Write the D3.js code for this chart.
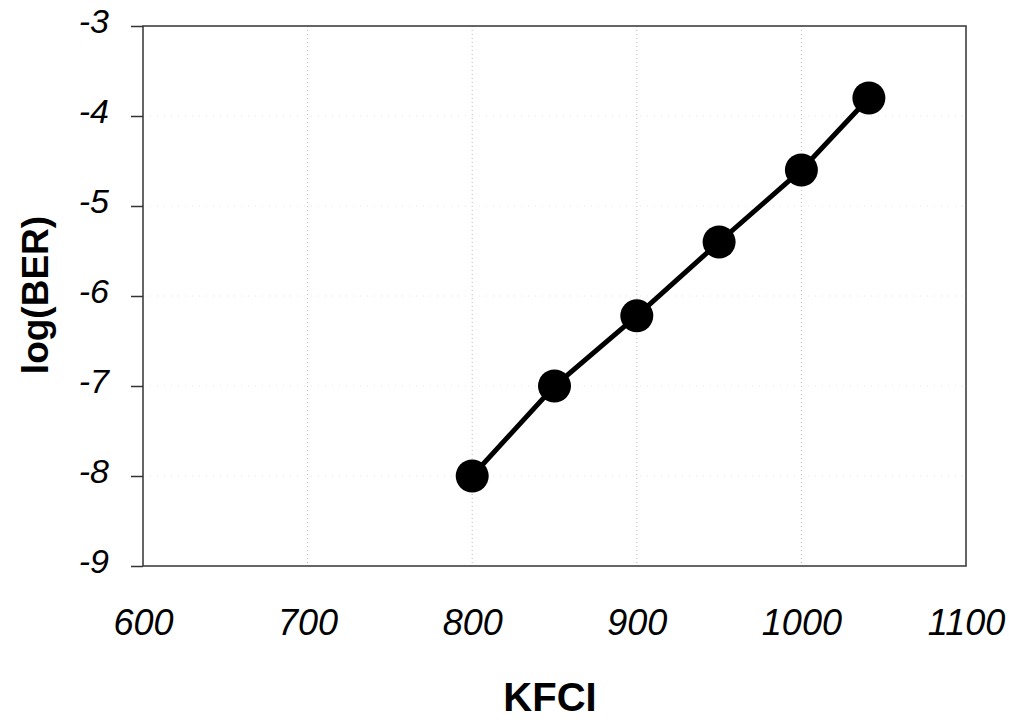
<!DOCTYPE html>
<html><head><meta charset="utf-8">
<script src="https://cdn.jsdelivr.net/npm/d3@7"></script>
<style>body{margin:0;background:#fff}svg{display:block}text{font-family:"Liberation Sans",Arial,sans-serif}</style>
</head><body>
<script>
const kfci = [800, 850, 900, 950, 1000, 1041];
const logBER = [-8.0, -7.0, -6.22, -5.4, -4.6, -3.8];
const xTicks = [600, 700, 800, 900, 1000, 1100];
const yTicks = [-9, -8, -7, -6, -5, -4, -3];

const W = 1009, H = 722;
const m = {l: 143, r: 1009 - 966, t: 26, b: 722 - 566};
const svg = d3.select("body").append("svg").attr("width", W).attr("height", H);
const x = d3.scaleLinear().domain([600, 1100]).range([m.l, W - m.r]);
const y = d3.scaleLinear().domain([-9, -3]).range([H - m.b, m.t]);

// gridlines
svg.append("g").selectAll("line").data(xTicks.slice(1, -1)).join("line")
  .attr("x1", d => x(d)).attr("x2", d => x(d)).attr("y1", m.t).attr("y2", H - m.b)
  .attr("stroke", "#bbb").attr("stroke-width", 1).attr("stroke-dasharray", "1,3");
svg.append("g").selectAll("line").data(yTicks.slice(1, -1)).join("line")
  .attr("x1", m.l).attr("x2", W - m.r).attr("y1", d => y(d)).attr("y2", d => y(d))
  .attr("stroke", "#e4e4e4").attr("stroke-width", 1).attr("stroke-dasharray", "1,6");

// frame
svg.append("rect").attr("x", m.l).attr("y", m.t).attr("width", W - m.r - m.l).attr("height", H - m.b - m.t)
  .attr("fill", "none").attr("stroke", "#333").attr("stroke-width", 1.5);

// y axis
const ya = svg.append("g").attr("transform", `translate(${m.l},0)`)
  .call(d3.axisLeft(y).tickValues(yTicks).tickSize(12).tickPadding(22).tickFormat(d => String(d)));
ya.attr("font-size", null).attr("font-family", null);
ya.select(".domain").remove();
ya.selectAll("line").attr("stroke", "#333").attr("stroke-width", 1.5);
ya.selectAll("text").style("font-size", "34px").style("font-style", "italic").attr("fill", "#000")
  .attr("dy", "0.2em");

// x axis
const xa = svg.append("g").attr("transform", `translate(0,${H - m.b})`)
  .call(d3.axisBottom(x).tickValues(xTicks).tickSize(0).tickFormat(d => String(d)));
xa.attr("font-size", null).attr("font-family", null);
xa.select(".domain").remove();
xa.selectAll("text").style("font-size", "36px").style("font-style", "italic").attr("fill", "#000")
  .attr("y", 69).attr("dy", null);

// line and markers
svg.append("path").datum(kfci.map((k, i) => [k, logBER[i]]))
  .attr("d", d3.line().x(d => x(d[0])).y(d => y(d[1])))
  .attr("fill", "none").attr("stroke", "#000").attr("stroke-width", 5);
svg.append("g").selectAll("circle").data(kfci.map((k, i) => [k, logBER[i]])).join("circle")
  .attr("cx", d => x(d[0])).attr("cy", d => y(d[1])).attr("r", 16.5).attr("fill", "#000");

// titles
svg.append("text").attr("x", 550).attr("y", 711).attr("text-anchor", "middle")
  .style("font-size", "40px").attr("font-weight", "bold").text("KFCI");
svg.append("text").attr("transform", `translate(48,295) rotate(-90)`).attr("text-anchor", "middle")
  .style("font-size", "37px").attr("font-weight", "bold").text("log(BER)");
</script>
</body></html>
